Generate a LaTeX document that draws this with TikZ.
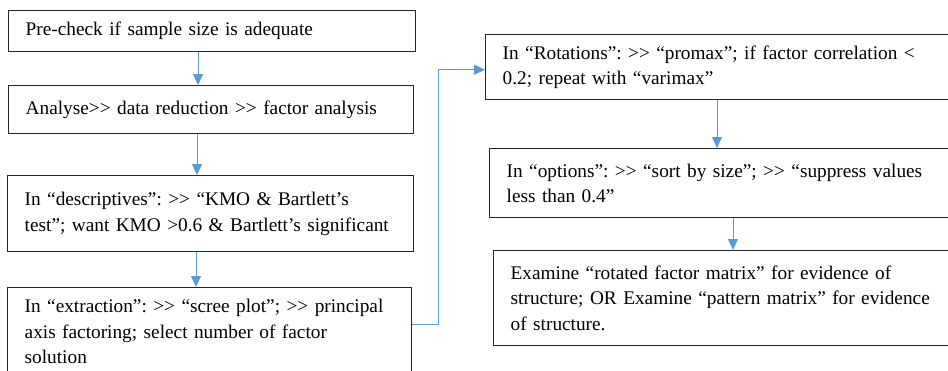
\documentclass[tikz,border=0pt]{standalone}
\usepackage{fontspec}
\setmainfont{Liberation Serif}
\newfontfamily\boxfont{Liberation Serif}
\usepackage{xcolor}
\usetikzlibrary{arrows.meta,positioning,calc}
\definecolor{linkblue}{HTML}{5B9BD5}
\definecolor{boxgray}{HTML}{262626}
\newcommand{\gtgt}{>\kern0pt>}
\frenchspacing
\hyphenpenalty=10000

\begin{document}
\begin{tikzpicture}[x=1pt,y=-1pt,
  stepbox/.style={draw=boxgray,line width=1.4pt,rectangle,anchor=north west,
    inner xsep=17pt,inner ysep=0pt,align=left,
    font=\boxfont\fontsize{19.3}{25.5}\selectfont},
  link/.style={draw=linkblue,line width=0.9pt,-{Triangle[width=10pt,length=11pt]}}]
	\useasboundingbox (0,0) rectangle (948,370);
	\clip (0,0) rectangle (948,370);
	% left column
	\node[stepbox,text width=373pt,minimum height=41pt] (b1) at (8,10)
		{Pre-check if sample size is adequate};
	\node[stepbox,text width=371pt,minimum height=48pt] (b2) at (8,85)
		{Analyse\gtgt{} data reduction \gtgt{} factor analysis};
	\node[stepbox,text width=372pt,minimum height=76pt] (b3) at (7,175)
		{In “descriptives”: \gtgt{} “KMO \& Bartlett’s\\ test”; want KMO \textgreater0.6 \& Bartlett’s significant};
	\node[stepbox,text width=370pt,minimum height=88pt] (b4) at (7,287)
		{In “extraction”: \gtgt{} “scree plot”; \gtgt{} principal\\ axis factoring; select number of factor\\ solution};
	% right column
	\node[stepbox,text width=446pt,minimum height=65pt] (b5) at (485,34)
		{In “Rotations”: \gtgt{} “promax”; if factor correlation \textless\\ 0.2; repeat with “varimax”};
	\node[stepbox,text width=446pt,minimum height=69pt] (b6) at (489,148)
		{In “options”: \gtgt{} “sort by size”; \gtgt{} “suppress values\\ less than 0.4”};
	\node[stepbox,text width=446pt,minimum height=95pt] (b7) at (493,250)
		{Examine “rotated factor matrix” for evidence of\\ structure; OR Examine “pattern matrix” for evidence\\ of structure.};
	% connectors
	\coordinate (a1) at (198,0);
	\coordinate (a2) at (197,0);
	\coordinate (a3) at (196,0);
	\coordinate (a5) at (717,0);
	\coordinate (a6) at (733,0);
	\draw[link] (b1.south -| a1) -- (b2.north -| a1);
	\draw[link] (b2.south -| a2) -- (b3.north -| a2);
	\draw[link] (b3.south -| a3) -- (b4.north -| a3);
	\draw[link] ([yshift=7pt]b4.east) -- ++(26,0) |- ([yshift=-2.5pt]b5.west);
	\draw[link] (b5.south -| a5) -- (b6.north -| a5);
	\draw[link] (b6.south -| a6) -- (b7.north -| a6);
\end{tikzpicture}
\end{document}
